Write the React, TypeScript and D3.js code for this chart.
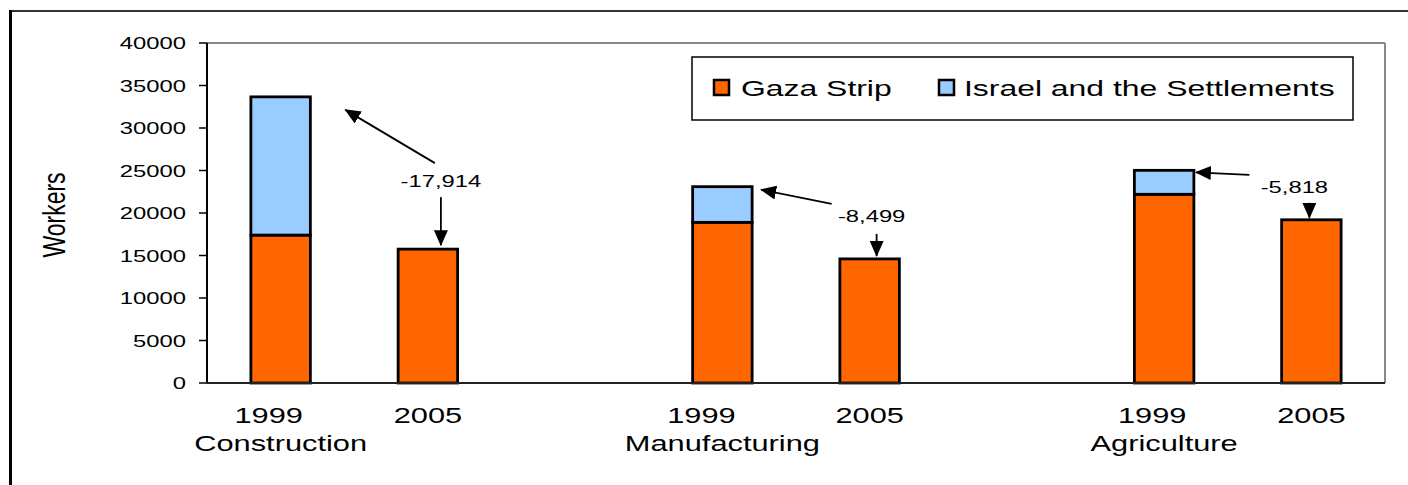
import React from 'react';
import * as d3 from 'd3';

// chart data
const sectors = ['Construction', 'Manufacturing', 'Agriculture'];
const years = ['1999', '2005'];
const gaza1999 = [17400, 18900, 22200];
const israel1999 = [16264, 4199, 2818];
const gaza2005 = [15750, 14600, 19200];
const changeLabels = ['-17,914', '-8,499', '-5,818'];
const yTicks = [0, 5000, 10000, 15000, 20000, 25000, 30000, 35000, 40000];
const seriesNames = ['Gaza Strip', 'Israel and the Settlements'];

const ORANGE = '#FF6600';
const BLUE = '#99CCFF';
const FONT = '"Liberation Sans", Arial, Helvetica, sans-serif';
const SX = 1.4; // the picture is stretched horizontally

const W = 1408;
const H = 485;
const plot = { left: 207, right: 1385, top: 43, bottom: 383 };

// slots: 1999, 2005, gap for each sector (last gap dropped)
const slots = sectors.flatMap((s, i) =>
  i < sectors.length - 1 ? [`${s}-1999`, `${s}-2005`, `${s}-gap`] : [`${s}-1999`, `${s}-2005`]
);

// annotation placement (pixels, relative to scale positions)
const annLayout = [
  { lx: 13, ly: 62, sx: -6, sy: -24, tx: 35, ty: 13, ax: 0, a0: 10, a1: 4 },
  { lx: 2, ly: 37, sx: -40, sy: -18, tx: 9, ty: 3, ax: 5, a0: 12, a1: 3 },
  { lx: -17, ly: 27, sx: -45, sy: -18, tx: 2, ty: 2, ax: 15, a0: 10, a1: 2 },
];
const yearShift = [-12, -21, -12];

const T = ({ x, y, size, anchor = 'middle', children, weight = 'normal' }: any) => (
  <text
    transform={`translate(${x},${y}) scale(${SX},1)`}
    textAnchor={anchor}
    fontSize={size}
    fontWeight={weight}
    fontFamily={FONT}
    fill="#000"
  >
    {children}
  </text>
);

export default function App() {
  const x = d3.scaleBand().domain(slots).range([plot.left, plot.right]).padding(0);
  const y = d3.scaleLinear().domain([0, 40000]).range([plot.bottom, plot.top]);
  const barW = x.bandwidth() * 0.404;

  const bars: any[] = [];
  sectors.forEach((s, i) => {
    const c99 = x(`${s}-1999`)! + x.bandwidth() / 2;
    const c05 = x(`${s}-2005`)! + x.bandwidth() / 2;
    const total = gaza1999[i] + israel1999[i];
    bars.push(
      <rect key={`g99${i}`} x={c99 - barW / 2} y={y(gaza1999[i])} width={barW} height={y(0) - y(gaza1999[i])}
        fill={ORANGE} stroke="#000" strokeWidth={2.8} />,
      <rect key={`i99${i}`} x={c99 - barW / 2} y={y(total)} width={barW} height={y(gaza1999[i]) - y(total)}
        fill={BLUE} stroke="#000" strokeWidth={2.8} />,
      <rect key={`g05${i}`} x={c05 - barW / 2} y={y(gaza2005[i])} width={barW} height={y(0) - y(gaza2005[i])}
        fill={ORANGE} stroke="#000" strokeWidth={2.8} />
    );
  });

  const annotations = sectors.map((s, i) => {
    const L = annLayout[i];
    const c99 = x(`${s}-1999`)! + x.bandwidth() / 2;
    const c05 = x(`${s}-2005`)! + x.bandwidth() / 2;
    const total = gaza1999[i] + israel1999[i];
    const lx = c05 + L.lx;
    const ly = y(gaza2005[i]) - L.ly;
    return (
      <g key={`ann${i}`}>
        <line x1={lx + L.sx} y1={ly + L.sy} x2={c99 + barW / 2 + L.tx} y2={y(total) + L.ty}
          stroke="#000" strokeWidth={1.8} markerEnd="url(#arrow)" />
        <T x={lx} y={ly} size={17}>{changeLabels[i]}</T>
        <line x1={lx + L.ax} y1={ly + L.a0} x2={lx + L.ax} y2={y(gaza2005[i]) - L.a1}
          stroke="#000" strokeWidth={1.8} markerEnd="url(#arrow)" />
      </g>
    );
  });

  const xLabels = sectors.map((s, i) => {
    const c99 = x(`${s}-1999`)! + x.bandwidth() / 2;
    const c05 = x(`${s}-2005`)! + x.bandwidth() / 2;
    return (
      <g key={`xl${i}`}>
        <T x={c99 + yearShift[i]} y={423} size={22}>{years[0]}</T>
        <T x={c05} y={423} size={22}>{years[1]}</T>
        <T x={c99} y={451} size={22}>{s}</T>
      </g>
    );
  });

  return (
    <svg width={W} height={H} style={{ position: 'absolute', left: 0, top: 0, background: '#fff' }}>
      <defs>
        <marker id="arrow" viewBox="0 0 16 14" markerWidth={16} markerHeight={14} refX={15} refY={7}
          orient="auto" markerUnits="userSpaceOnUse">
          <path d="M0,0 L16,7 L0,14 Z" fill="#000" />
        </marker>
      </defs>

      {/* outer frame */}
      <line x1={10} y1={11} x2={W} y2={11} stroke="#333" strokeWidth={2} />
      <line x1={10.5} y1={10} x2={10.5} y2={H} stroke="#000" strokeWidth={3} />

      {/* plot area border */}
      <line x1={plot.left} y1={plot.top} x2={plot.right} y2={plot.top} stroke="#888" strokeWidth={2} />
      <line x1={plot.right} y1={plot.top} x2={plot.right} y2={plot.bottom} stroke="#888" strokeWidth={2} />

      {bars}

      {/* axes */}
      <line x1={plot.left} y1={plot.top} x2={plot.left} y2={plot.bottom} stroke="#000" strokeWidth={2} />
      <line x1={plot.left} y1={plot.bottom} x2={plot.right} y2={plot.bottom} stroke="#222" strokeWidth={2} />
      {yTicks.map((t) => (
        <g key={`yt${t}`}>
          <line x1={199} x2={plot.left} y1={y(t)} y2={y(t)} stroke="#000" strokeWidth={1.5} />
          <T x={186} y={y(t) + 6} size={17} anchor="end">{String(t)}</T>
        </g>
      ))}

      <text transform={`translate(65,215) scale(${SX},1) rotate(-90)`} textAnchor="middle" fontSize={23}
        fontFamily={FONT} fill="#000">Workers</text>

      {xLabels}
      {annotations}

      {/* legend */}
      <rect x={692} y={57} width={661} height={63} fill="#fff" stroke="#000" strokeWidth={1.5} />
      <rect x={714} y={80} width={15} height={15} fill={ORANGE} stroke="#000" strokeWidth={2.5} />
      <T x={741} y={96} size={22.8} anchor="start">{seriesNames[0]}</T>
      <rect x={939} y={80} width={15} height={15} fill={BLUE} stroke="#000" strokeWidth={2.5} />
      <T x={964} y={96} size={22.8} anchor="start">{seriesNames[1]}</T>
    </svg>
  );
}
